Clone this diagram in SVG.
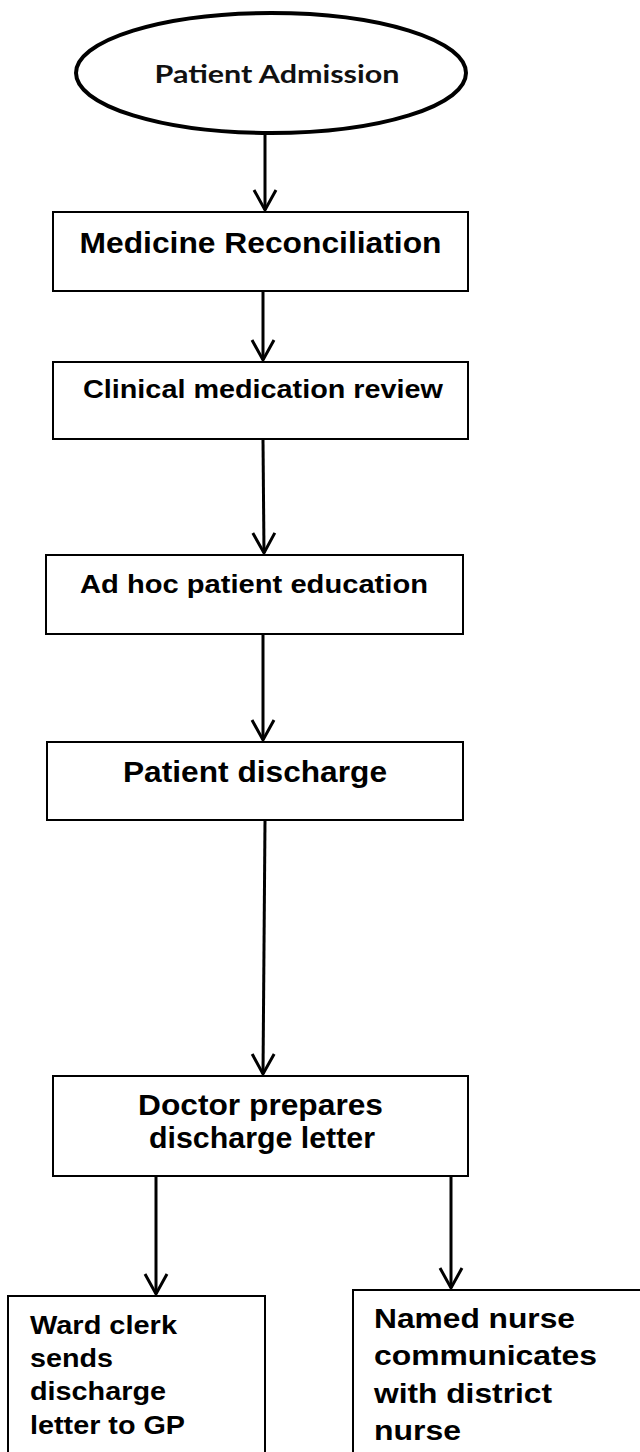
<svg xmlns="http://www.w3.org/2000/svg" width="640" height="1452" viewBox="0 0 640 1452">
  <style>
    .box { fill: #ffffff; stroke: #000000; stroke-width: 2; }
    .t { font-family: "Liberation Sans", Arial, sans-serif; font-weight: bold; fill: #000000; }
    .c { text-anchor: middle; }
    .conn { stroke: #000000; stroke-width: 3; fill: none; marker-end: url(#arrow); }
  </style>
  <defs>
    <marker id="arrow" viewBox="-24 -14 28 28" markerWidth="28" markerHeight="28" refX="0" refY="0" orient="auto" markerUnits="userSpaceOnUse">
      <path d="M-20,-11 L0,0 L-20,11" fill="none" stroke="#000000" stroke-width="3" stroke-linejoin="miter"/>
    </marker>
  </defs>

  <rect width="640" height="1452" fill="#ffffff"/>

  <g id="connectors">
    <line class="conn" x1="265" y1="134" x2="265" y2="210"/>
    <line class="conn" x1="263" y1="292" x2="263" y2="360"/>
    <line class="conn" x1="263" y1="440" x2="264" y2="553"/>
    <line class="conn" x1="263" y1="635" x2="263" y2="740"/>
    <line class="conn" x1="265" y1="821" x2="263" y2="1074"/>
    <line class="conn" x1="156" y1="1177" x2="156" y2="1294"/>
    <line class="conn" x1="451" y1="1177" x2="451" y2="1288"/>
  </g>

  <g id="patient-admission">
    <ellipse cx="271" cy="73" rx="195" ry="60" fill="#ffffff" stroke="#000000" stroke-width="4"/>
    <text x="277" y="83" font-family="Lato, 'Open Sans', sans-serif" font-weight="bold" font-size="25" fill="#111111" text-anchor="middle" textLength="245" lengthAdjust="spacingAndGlyphs">Patient Admission</text>
  </g>

  <g id="medicine-reconciliation">
    <rect class="box" x="53" y="212" width="415" height="79"/>
    <text class="t c" x="260.5" y="253" font-size="29" textLength="362" lengthAdjust="spacingAndGlyphs">Medicine Reconciliation</text>
  </g>

  <g id="clinical-medication-review">
    <rect class="box" x="53" y="362" width="415" height="77"/>
    <text class="t c" x="263" y="398" font-size="25" textLength="360" lengthAdjust="spacingAndGlyphs">Clinical medication review</text>
  </g>

  <g id="ad-hoc-patient-education">
    <rect class="box" x="46" y="555" width="417" height="79"/>
    <text class="t c" x="254" y="593" font-size="26" textLength="348" lengthAdjust="spacingAndGlyphs">Ad hoc patient education</text>
  </g>

  <g id="patient-discharge">
    <rect class="box" x="47" y="742" width="416" height="78"/>
    <text class="t c" x="255" y="782" font-size="29" textLength="264" lengthAdjust="spacingAndGlyphs">Patient discharge</text>
  </g>

  <g id="doctor-prepares">
    <rect class="box" x="53" y="1076" width="415" height="100"/>
    <text class="t c" x="260.5" y="1115" font-size="29" textLength="245" lengthAdjust="spacingAndGlyphs">Doctor prepares</text>
    <text class="t c" x="262" y="1148" font-size="29" textLength="226" lengthAdjust="spacingAndGlyphs">discharge letter</text>
  </g>

  <g id="ward-clerk">
    <rect class="box" x="8" y="1296" width="257" height="170"/>
    <text class="t" x="30" y="1334" font-size="26" textLength="147" lengthAdjust="spacingAndGlyphs">Ward clerk</text>
    <text class="t" x="30" y="1367" font-size="26" textLength="83" lengthAdjust="spacingAndGlyphs">sends</text>
    <text class="t" x="30" y="1400" font-size="26" textLength="136" lengthAdjust="spacingAndGlyphs">discharge</text>
    <text class="t" x="30" y="1434" font-size="26" textLength="155" lengthAdjust="spacingAndGlyphs">letter to GP</text>
  </g>

  <g id="named-nurse">
    <rect class="box" x="353" y="1290" width="300" height="180"/>
    <text class="t" x="374" y="1328" font-size="28" textLength="201" lengthAdjust="spacingAndGlyphs">Named nurse</text>
    <text class="t" x="374" y="1365" font-size="28" textLength="223" lengthAdjust="spacingAndGlyphs">communicates</text>
    <text class="t" x="374" y="1403" font-size="28" textLength="178" lengthAdjust="spacingAndGlyphs">with district</text>
    <text class="t" x="374" y="1440" font-size="28" textLength="87" lengthAdjust="spacingAndGlyphs">nurse</text>
  </g>
</svg>
